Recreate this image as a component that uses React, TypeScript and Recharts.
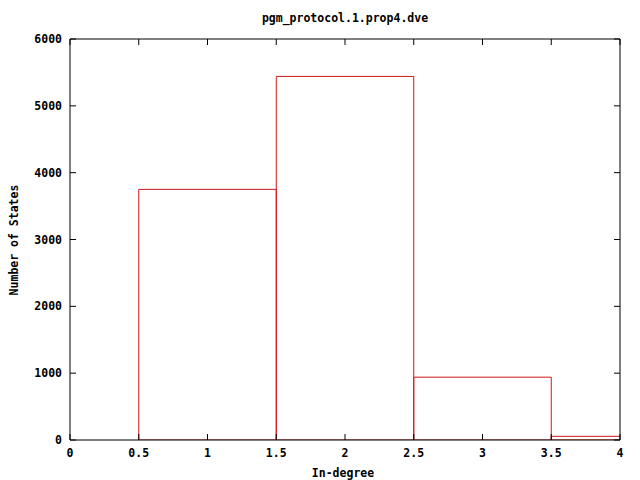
import { ComposedChart, XAxis, YAxis, ReferenceArea, Line } from 'recharts';

const binStart = [0.5, 1.5, 2.5, 3.5];
const binEnd = [1.5, 2.5, 3.5, 4.5];
const states = [3750, 5440, 940, 55];

const xTicks = [0, 0.5, 1, 1.5, 2, 2.5, 3, 3.5, 4];
const xTickLabels = ['0', '0.5', '1', '1.5', '2', '2.5', '3', '3.5', '4'];
const yTicks = [0, 1000, 2000, 3000, 4000, 5000, 6000];

const font = '"DejaVu Sans Mono", monospace';
const TICK = 6;

const BottomTick = ({ x, y, payload, index }: any) => (
  <g>
    <line x1={x} x2={x} y1={y} y2={y - TICK} stroke="#000" />
    <text x={x} y={y + 17} textAnchor="middle" fontFamily={font} fontWeight="bold" fontSize={11.5} fill="#000">
      {xTickLabels[index] ?? payload.value}
    </text>
  </g>
);

const TopTick = ({ x, y }: any) => <line x1={x} x2={x} y1={y} y2={y + TICK} stroke="#000" />;

const LeftTick = ({ x, y, payload }: any) => (
  <g>
    <line x1={x} x2={x + TICK} y1={y} y2={y} stroke="#000" />
    <text x={x - 8} y={y + 4} textAnchor="end" fontFamily={font} fontWeight="bold" fontSize={11.5} fill="#000">
      {payload.value}
    </text>
  </g>
);

const RightTick = ({ x, y }: any) => <line x1={x} x2={x - TICK} y1={y} y2={y} stroke="#000" />;

const data = binStart.map((s, i) => ({ x: (s + binEnd[i]) / 2, y: states[i] }));

export default function App() {
  return (
    <div style={{ position: 'absolute', left: 0, top: 0, width: 640, height: 480, background: '#fff' }}>
      <ComposedChart width={640} height={480} data={data} margin={{ top: 38, right: 19, left: 0, bottom: 0 }}>
        <text x={345} y={22} textAnchor="middle" fontFamily={font} fontWeight="bold" fontSize={11.5} fill="#000">
          pgm_protocol.1.prop4.dve
        </text>
        <text x={343} y={477} textAnchor="middle" fontFamily={font} fontWeight="bold" fontSize={11.5} fill="#000">
          In-degree
        </text>
        <text
          x={18}
          y={240}
          textAnchor="middle"
          fontFamily={font}
          fontWeight="bold"
          fontSize={11.5}
          fill="#000"
          transform="rotate(-90 18 240)"
        >
          Number of States
        </text>
        <XAxis
          xAxisId="bottom"
          dataKey="x"
          type="number"
          domain={[0, 4]}
          ticks={xTicks}
          interval={0}
          allowDataOverflow
          height={40}
          tickSize={0}
          tickMargin={0}
          tick={<BottomTick />}
          axisLine={{ stroke: '#000' }}
        />
        <XAxis
          xAxisId="top"
          dataKey="x"
          orientation="top"
          type="number"
          domain={[0, 4]}
          ticks={xTicks}
          interval={0}
          allowDataOverflow
          height={1}
          tickSize={0}
          tickMargin={0}
          tick={<TopTick />}
          axisLine={{ stroke: '#000' }}
        />
        <YAxis
          yAxisId="left"
          type="number"
          domain={[0, 6000]}
          ticks={yTicks}
          interval={0}
          allowDataOverflow
          width={70}
          tickSize={0}
          tickMargin={0}
          tick={<LeftTick />}
          axisLine={{ stroke: '#000' }}
        />
        <YAxis
          yAxisId="right"
          orientation="right"
          type="number"
          domain={[0, 6000]}
          ticks={yTicks}
          interval={0}
          allowDataOverflow
          width={1}
          tickSize={0}
          tickMargin={0}
          tick={<RightTick />}
          axisLine={{ stroke: '#000' }}
        />
        <Line
          dataKey="y"
          xAxisId="bottom"
          yAxisId="left"
          stroke="none"
          dot={false}
          activeDot={false}
          isAnimationActive={false}
        />
        <Line
          dataKey="y"
          xAxisId="top"
          yAxisId="right"
          stroke="none"
          dot={false}
          activeDot={false}
          isAnimationActive={false}
        />
        {binStart.map((s, i) => (
          <ReferenceArea
            key={i}
            xAxisId="bottom"
            yAxisId="left"
            x1={s}
            x2={binEnd[i]}
            y1={0}
            y2={states[i]}
            ifOverflow="hidden"
            fill="none"
            fillOpacity={0}
            stroke="#d01818"
            strokeWidth={1}
            strokeOpacity={1}
          />
        ))}
      </ComposedChart>
    </div>
  );
}
